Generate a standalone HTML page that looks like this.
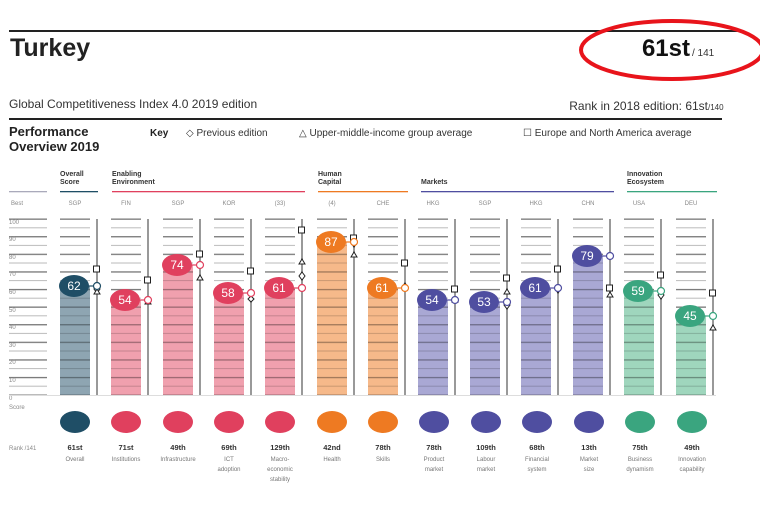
<!DOCTYPE html>
<html><head><meta charset="utf-8"><style>
html,body{margin:0;padding:0;background:#fff;}
body{width:760px;height:504px;overflow:hidden;font-family:"Liberation Sans",sans-serif;}
</style></head><body>
<svg width="760" height="504" viewBox="0 0 760 504" xmlns="http://www.w3.org/2000/svg" font-family="Liberation Sans, sans-serif">
<defs>
<pattern id="g" patternUnits="userSpaceOnUse" x="0" y="218.5" width="10" height="17.6">
<rect x="0" y="0" width="10" height="1.3" fill="#777"/><rect x="0" y="8.8" width="10" height="1" fill="#bbb"/>
</pattern>
<pattern id="d" patternUnits="userSpaceOnUse" x="0" y="218.5" width="10" height="17.6">
<rect x="0" y="0" width="10" height="1.3" fill="rgba(0,0,0,0.35)"/><rect x="0" y="8.8" width="10" height="1" fill="rgba(0,0,0,0.18)"/>
</pattern>
</defs>
<rect x="9" y="30" width="731" height="2" fill="#222"/>
<text x="10" y="56" font-size="25" font-weight="bold" fill="#222">Turkey</text>
<text x="690" y="56" font-size="24" font-weight="bold" fill="#111" text-anchor="end">61st</text>
<text x="692" y="56" font-size="10" fill="#333">/ 141</text>
<ellipse cx="672" cy="50" rx="91" ry="29" fill="none" stroke="#e8141b" stroke-width="4"/>
<text x="9" y="108" font-size="12" fill="#333">Global Competitiveness Index 4.0 2019 edition</text>
<text x="708" y="110" font-size="12" fill="#333" text-anchor="end">Rank in 2018 edition: 61st</text>
<text x="708" y="110" font-size="8" fill="#333">/140</text>
<rect x="9" y="118" width="713" height="2" fill="#222"/>
<text x="9" y="136" font-size="13" font-weight="bold" fill="#222">Performance</text>
<text x="9" y="151" font-size="13" font-weight="bold" fill="#222">Overview 2019</text>
<text x="150" y="136" font-size="10" font-weight="bold" fill="#222">Key</text>
<text x="186" y="136" font-size="10" fill="#333">◇ Previous edition</text>
<text x="299" y="136" font-size="10" fill="#333">△ Upper-middle-income group average</text>
<text x="523" y="136" font-size="10" fill="#333">☐ Europe and North America average</text>
<g font-size="7" font-weight="bold" fill="#333">
<text x="60" y="176">Overall</text><text x="60" y="184">Score</text>
<text x="112" y="176">Enabling</text><text x="112" y="184">Environment</text>
<text x="318" y="176">Human</text><text x="318" y="184">Capital</text>
<text x="421" y="184">Markets</text>
<text x="627" y="176">Innovation</text><text x="627" y="184">Ecosystem</text>
</g>
<rect x="9" y="191" width="38" height="1.3" fill="#aab"/>
<rect x="60" y="191" width="38" height="1.3" fill="#1f4e66"/>
<rect x="112" y="191" width="193" height="1.3" fill="#e0405e"/>
<rect x="318" y="191" width="90" height="1.3" fill="#ee7a22"/>
<rect x="421" y="191" width="193" height="1.3" fill="#4f4ea0"/>
<rect x="627" y="191" width="90" height="1.3" fill="#3aa57f"/>
<g font-size="6" fill="#888" text-anchor="middle">
<text x="17" y="205">Best</text>
<text x="75" y="205">SGP</text><text x="126" y="205">FIN</text><text x="178" y="205">SGP</text><text x="229" y="205">KOR</text><text x="280" y="205">(33)</text><text x="332" y="205">(4)</text><text x="383" y="205">CHE</text><text x="433" y="205">HKG</text><text x="485" y="205">SGP</text><text x="536" y="205">HKG</text><text x="588" y="205">CHN</text><text x="639" y="205">USA</text><text x="691" y="205">DEU</text>
</g>
<rect x="9" y="218" width="38" height="177" fill="url(#g)"/>
<g font-size="6" fill="#888">
<text x="9" y="224">100</text><text x="9" y="241">90</text><text x="9" y="259">80</text><text x="9" y="276">70</text><text x="9" y="294">60</text><text x="9" y="312">50</text><text x="9" y="329">40</text><text x="9" y="347">30</text><text x="9" y="364">20</text><text x="9" y="382">10</text><text x="9" y="400">0</text><text x="9" y="409">Score</text>
</g>
<rect x="9" y="395" width="707" height="1" fill="#ddd"/>
<g fill="url(#g)">
<rect x="60" y="218" width="30" height="177"/><rect x="111" y="218" width="30" height="177"/><rect x="163" y="218" width="30" height="177"/><rect x="214" y="218" width="30" height="177"/><rect x="265" y="218" width="30" height="177"/><rect x="317" y="218" width="30" height="177"/><rect x="368" y="218" width="30" height="177"/><rect x="418" y="218" width="30" height="177"/><rect x="470" y="218" width="30" height="177"/><rect x="521" y="218" width="30" height="177"/><rect x="573" y="218" width="30" height="177"/><rect x="624" y="218" width="30" height="177"/><rect x="676" y="218" width="30" height="177"/>
</g>
<g fill="#999">
<rect x="96" y="219" width="2" height="176"/><rect x="147" y="219" width="2" height="176"/><rect x="199" y="219" width="2" height="176"/><rect x="250" y="219" width="2" height="176"/><rect x="301" y="219" width="2" height="176"/><rect x="353" y="219" width="2" height="176"/><rect x="404" y="219" width="2" height="176"/><rect x="454" y="219" width="2" height="176"/><rect x="506" y="219" width="2" height="176"/><rect x="557" y="219" width="2" height="176"/><rect x="609" y="219" width="2" height="176"/><rect x="660" y="219" width="2" height="176"/><rect x="712" y="219" width="2" height="176"/>
</g>
<rect x="60" y="286" width="30" height="109" fill="#8ea5b2"/>
<rect x="111" y="300" width="30" height="95" fill="#f0a0ae"/>
<rect x="163" y="265" width="30" height="130" fill="#f0a0ae"/>
<rect x="214" y="293" width="30" height="102" fill="#f0a0ae"/>
<rect x="265" y="288" width="30" height="107" fill="#f0a0ae"/>
<rect x="317" y="242" width="30" height="153" fill="#f6b98a"/>
<rect x="368" y="288" width="30" height="107" fill="#f6b98a"/>
<rect x="418" y="300" width="30" height="95" fill="#a9a8d4"/>
<rect x="470" y="302" width="30" height="93" fill="#a9a8d4"/>
<rect x="521" y="288" width="30" height="107" fill="#a9a8d4"/>
<rect x="573" y="256" width="30" height="139" fill="#a9a8d4"/>
<rect x="624" y="291" width="30" height="104" fill="#9fd6bd"/>
<rect x="676" y="316" width="30" height="79" fill="#9fd6bd"/>
<g fill="url(#d)">
<rect x="60" y="286" width="30" height="109"/><rect x="111" y="300" width="30" height="95"/><rect x="163" y="265" width="30" height="130"/><rect x="214" y="293" width="30" height="102"/><rect x="265" y="288" width="30" height="107"/><rect x="317" y="242" width="30" height="153"/><rect x="368" y="288" width="30" height="107"/><rect x="418" y="300" width="30" height="95"/><rect x="470" y="302" width="30" height="93"/><rect x="521" y="288" width="30" height="107"/><rect x="573" y="256" width="30" height="139"/><rect x="624" y="291" width="30" height="104"/><rect x="676" y="316" width="30" height="79"/>
</g>
<g fill="#fff" stroke="#222" stroke-width="1">
<rect x="93.5" y="266" width="6" height="6"/><polygon points="97,285 100,289 97,293 94,289"/><polygon points="97,289 100,294 94,294"/>
<rect x="144.5" y="277" width="6" height="6"/><polygon points="148,299 151,304 145,304"/>
<rect x="196.5" y="251" width="6" height="6"/><polygon points="200,275 203,280 197,280"/>
<rect x="247.5" y="268" width="6" height="6"/><polygon points="251,296 254,299 251,302 248,299"/>
<rect x="298.5" y="227" width="6" height="6"/><polygon points="302,259 305,264 299,264"/><polygon points="302,272 305,276 302,280 299,276"/>
<rect x="350.5" y="235" width="6" height="6"/><polygon points="354,239 357,243 354,247 351,243"/><polygon points="354,252 357,257 351,257"/>
<rect x="401.5" y="260" width="6" height="6"/><polygon points="405,283 408,287 405,291 402,287"/>
<rect x="451.5" y="286" width="6" height="6"/><polygon points="455,297 458,302 452,302"/>
<rect x="503.5" y="275" width="6" height="6"/><polygon points="507,289 510,294 504,294"/><polygon points="507,301 510,305 507,309 504,305"/>
<rect x="554.5" y="266" width="6" height="6"/><polygon points="558,285 561,289 558,293 555,289"/>
<rect x="606.5" y="285" width="6" height="6"/><polygon points="610,292 613,297 607,297"/>
<rect x="657.5" y="272" width="6" height="6"/><polygon points="661,291 664,295 661,299 658,295"/>
<rect x="709.5" y="290" width="6" height="6"/><polygon points="713,325 716,330 710,330"/>
</g>
<g stroke-width="1.2" fill="#fff">
<line x1="88" y1="286" x2="94" y2="286" stroke="#1f4e66"/><circle cx="97" cy="286" r="3.5" stroke="#1f4e66"/>
<line x1="139" y1="300" x2="145" y2="300" stroke="#e0405e"/><circle cx="148" cy="300" r="3.5" stroke="#e0405e"/>
<line x1="191" y1="265" x2="197" y2="265" stroke="#e0405e"/><circle cx="200" cy="265" r="3.5" stroke="#e0405e"/>
<line x1="242" y1="293" x2="248" y2="293" stroke="#e0405e"/><circle cx="251" cy="293" r="3.5" stroke="#e0405e"/>
<line x1="293" y1="288" x2="299" y2="288" stroke="#e0405e"/><circle cx="302" cy="288" r="3.5" stroke="#e0405e"/>
<line x1="345" y1="242" x2="351" y2="242" stroke="#ee7a22"/><circle cx="354" cy="242" r="3.5" stroke="#ee7a22"/>
<line x1="396" y1="288" x2="402" y2="288" stroke="#ee7a22"/><circle cx="405" cy="288" r="3.5" stroke="#ee7a22"/>
<line x1="446" y1="300" x2="452" y2="300" stroke="#4f4ea0"/><circle cx="455" cy="300" r="3.5" stroke="#4f4ea0"/>
<line x1="498" y1="302" x2="504" y2="302" stroke="#4f4ea0"/><circle cx="507" cy="302" r="3.5" stroke="#4f4ea0"/>
<line x1="549" y1="288" x2="555" y2="288" stroke="#4f4ea0"/><circle cx="558" cy="288" r="3.5" stroke="#4f4ea0"/>
<line x1="601" y1="256" x2="607" y2="256" stroke="#4f4ea0"/><circle cx="610" cy="256" r="3.5" stroke="#4f4ea0"/>
<line x1="652" y1="291" x2="658" y2="291" stroke="#3aa57f"/><circle cx="661" cy="291" r="3.5" stroke="#3aa57f"/>
<line x1="704" y1="316" x2="710" y2="316" stroke="#3aa57f"/><circle cx="713" cy="316" r="3.5" stroke="#3aa57f"/>
</g>
<g>
<ellipse cx="74" cy="286" rx="15" ry="11" fill="#1f4e66"/>
<ellipse cx="125" cy="300" rx="15" ry="11" fill="#e0405e"/>
<ellipse cx="177" cy="265" rx="15" ry="11" fill="#e0405e"/>
<ellipse cx="228" cy="293" rx="15" ry="11" fill="#e0405e"/>
<ellipse cx="279" cy="288" rx="15" ry="11" fill="#e0405e"/>
<ellipse cx="331" cy="242" rx="15" ry="11" fill="#ee7a22"/>
<ellipse cx="382" cy="288" rx="15" ry="11" fill="#ee7a22"/>
<ellipse cx="432" cy="300" rx="15" ry="11" fill="#4f4ea0"/>
<ellipse cx="484" cy="302" rx="15" ry="11" fill="#4f4ea0"/>
<ellipse cx="535" cy="288" rx="15" ry="11" fill="#4f4ea0"/>
<ellipse cx="587" cy="256" rx="15" ry="11" fill="#4f4ea0"/>
<ellipse cx="638" cy="291" rx="15" ry="11" fill="#3aa57f"/>
<ellipse cx="690" cy="316" rx="15" ry="11" fill="#3aa57f"/>
</g>
<g font-size="12" fill="#fff" text-anchor="middle">
<text x="74" y="290">62</text><text x="125" y="304">54</text><text x="177" y="269">74</text><text x="228" y="297">58</text><text x="279" y="292">61</text><text x="331" y="246">87</text><text x="382" y="292">61</text><text x="432" y="304">54</text><text x="484" y="306">53</text><text x="535" y="292">61</text><text x="587" y="260">79</text><text x="638" y="295">59</text><text x="690" y="320">45</text>
</g>
<g>
<ellipse cx="75" cy="422" rx="15" ry="11" fill="#1f4e66"/>
<ellipse cx="126" cy="422" rx="15" ry="11" fill="#e0405e"/><ellipse cx="178" cy="422" rx="15" ry="11" fill="#e0405e"/><ellipse cx="229" cy="422" rx="15" ry="11" fill="#e0405e"/><ellipse cx="280" cy="422" rx="15" ry="11" fill="#e0405e"/>
<ellipse cx="332" cy="422" rx="15" ry="11" fill="#ee7a22"/><ellipse cx="383" cy="422" rx="15" ry="11" fill="#ee7a22"/>
<ellipse cx="434" cy="422" rx="15" ry="11" fill="#4f4ea0"/><ellipse cx="486" cy="422" rx="15" ry="11" fill="#4f4ea0"/><ellipse cx="537" cy="422" rx="15" ry="11" fill="#4f4ea0"/><ellipse cx="589" cy="422" rx="15" ry="11" fill="#4f4ea0"/>
<ellipse cx="640" cy="422" rx="15" ry="11" fill="#3aa57f"/><ellipse cx="692" cy="422" rx="15" ry="11" fill="#3aa57f"/>
</g>
<text x="9" y="450" font-size="6" fill="#888">Rank /141</text>
<g font-size="7.5" font-weight="bold" fill="#333" text-anchor="middle">
<text x="75" y="450">61st</text><text x="126" y="450">71st</text><text x="178" y="450">49th</text><text x="229" y="450">69th</text><text x="280" y="450">129th</text><text x="332" y="450">42nd</text><text x="383" y="450">78th</text><text x="434" y="450">78th</text><text x="486" y="450">109th</text><text x="537" y="450">68th</text><text x="589" y="450">13th</text><text x="640" y="450">75th</text><text x="692" y="450">49th</text>
</g>
<g font-size="6" fill="#777" text-anchor="middle">
<text x="75" y="461">Overall</text><text x="126" y="461">Institutions</text><text x="178" y="461">Infrastructure</text>
<text x="229" y="461">ICT</text><text x="229" y="471">adoption</text>
<text x="280" y="461">Macro-</text><text x="280" y="471">economic</text><text x="280" y="481">stability</text>
<text x="332" y="461">Health</text><text x="383" y="461">Skills</text>
<text x="434" y="461">Product</text><text x="434" y="471">market</text>
<text x="486" y="461">Labour</text><text x="486" y="471">market</text>
<text x="537" y="461">Financial</text><text x="537" y="471">system</text>
<text x="589" y="461">Market</text><text x="589" y="471">size</text>
<text x="640" y="461">Business</text><text x="640" y="471">dynamism</text>
<text x="692" y="461">Innovation</text><text x="692" y="471">capability</text>
</g>
</svg>
</body></html>
